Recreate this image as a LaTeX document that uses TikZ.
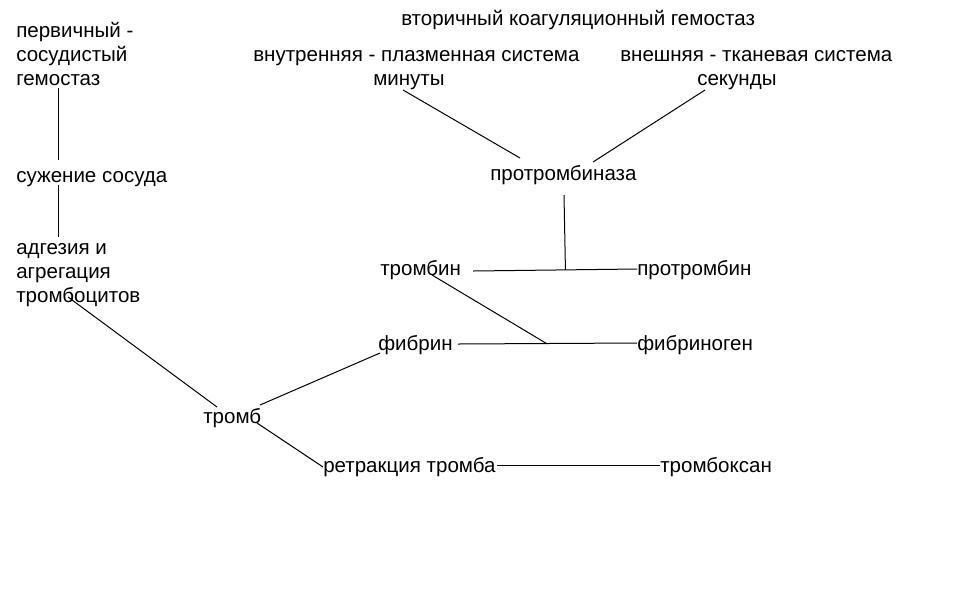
\documentclass[tikz,border=0pt]{standalone}
\usepackage{fontspec}
\setmainfont{Liberation Sans}
\usetikzlibrary{positioning}

\begin{document}
\begin{tikzpicture}[x=0.75pt, y=-0.75pt, font=\fontsize{15.4}{18}\selectfont,
  lbl/.style={inner sep=0pt, anchor=base west, align=left},
  link/.style={line width=0.75pt}]
\useasboundingbox (0,0) rectangle (955,615);
% первичный гемостаз
\node[lbl] (prim) at (16,85) {первичный -\\сосудистый\\гемостаз};
\node[lbl] (narrow) at (16,182) {сужение сосуда};
\node[lbl] (adh) at (16,302) {адгезия и\\агрегация\\тромбоцитов};
\node[lbl] (clot) at (203,423) {тромб};
\node[lbl] (retr) at (323,472) {ретракция тромба};
\node[lbl] (txa) at (660,472) {тромбоксан};
% вторичный гемостаз
\node[lbl] (sec) at (401,25) {вторичный коагуляционный гемостаз};
\node[lbl] (intr) at (253,85) {внутренняя - плазменная система\\\hspace*{90pt}минуты};
\node[lbl] (extr) at (620,85) {внешняя - тканевая система\\\hspace*{57.75pt}секунды};
\node[lbl] (ptase) at (490,180) {протромбиназа};
\node[lbl] (thr) at (380,275) {тромбин};
\node[lbl] (pthr) at (637,275) {протромбин};
\node[lbl] (fib) at (378,350) {фибрин};
\node[lbl] (fgen) at (637,350) {фибриноген};
% связи
\draw[link] ([shift={(42,3)}]prim.base west) -- ([shift={(42,-22)}]narrow.base west);
\draw[link] ([shift={(42,3)}]narrow.base west) -- ([shift={(42,-65)}]adh.base west);
\draw[link] ([shift={(52,-5)}]adh.base west) -- ([shift={(14,-16)}]clot.base west);
\draw[link] ([shift={(57,-18)}]clot.base west) -- ([shift={(2,3)}]fib.base west);
\draw[link] ([shift={(54,0)}]clot.base west) -- ([shift={(0,-5)}]retr.base west);
\draw[link] ([shift={(1,-7)}]retr.base east) -- ([shift={(0,-7)}]txa.base west);
\draw[link] ([shift={(150,5)}]intr.base west) -- ([shift={(30,-22)}]ptase.base west);
\draw[link] ([shift={(85,5)}]extr.base west) -- ([shift={(103,-18)}]ptase.base west);
\draw[link] ([shift={(12,-4)}]thr.base east) -- coordinate[pos=0.563] (j1) ([shift={(0,-6)}]pthr.base west);
\draw[link] ([shift={(5,-6)}]fib.base east) -- coordinate[pos=0.495] (j2) ([shift={(0,-7)}]fgen.base west);
\draw[link] ([shift={(74,15)}]ptase.base west) -- (j1);
\draw[link] ([shift={(52,0)}]thr.base west) -- (j2);
\end{tikzpicture}
\end{document}
